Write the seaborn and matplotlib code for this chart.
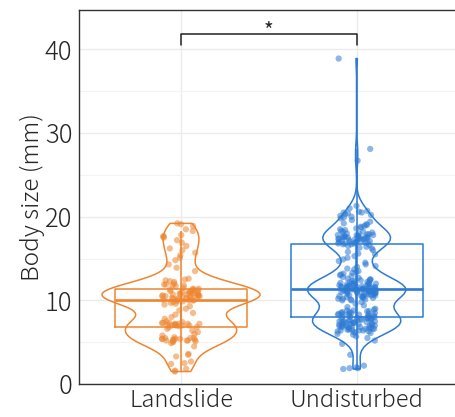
import pandas as pd
import matplotlib
matplotlib.use("Agg")
import matplotlib.pyplot as plt
import seaborn as sns

# Body size values (mm)
landslide = [
    19.2, 19.1, 18.9, 18.5, 18.3, 17.8, 17.7, 17.6, 17.5, 17.2, 16.9, 16.5, 16.2, 16.0, 15.7, 15.4,
    15.1, 14.8, 14.3, 13.9, 13.5, 12.6, 12.5, 12.4, 12.3, 12.2, 12.0, 11.9, 11.9, 11.8, 11.8, 11.7,
    11.5, 11.4, 11.4, 11.3, 11.3, 11.2, 11.2, 11.1, 11.1, 11.0, 11.0, 11.0, 10.9, 10.9, 10.8, 10.8,
    10.8, 10.7, 10.7, 10.7, 10.6, 10.6, 10.6, 10.5, 10.5, 10.5, 10.4, 10.4, 10.4, 10.3, 10.3, 10.3,
    10.2, 10.2, 10.1, 10.1, 10.0, 10.0, 10.0, 9.9, 9.9, 9.8, 9.7, 9.6, 9.5, 9.3, 9.0, 8.8, 8.5,
    8.3, 8.0, 7.8, 7.5, 7.4, 7.3, 7.3, 7.3, 7.2, 7.2, 7.2, 7.2, 7.1, 7.1, 7.1, 7.0, 7.0, 7.0, 7.0,
    6.9, 6.8, 6.8, 6.6, 6.4, 6.2, 6.0, 5.8, 5.6, 5.5, 5.5, 5.5, 5.4, 5.4, 5.4, 5.4, 5.3, 5.3, 5.3,
    5.2, 5.2, 5.2, 5.1, 5.1, 5.0, 4.9, 4.5, 3.6, 3.5, 3.3, 2.7, 2.5, 2.4, 1.8, 1.6, 1.5,
]
undisturbed = [
    38.9, 28.1, 26.7, 21.3, 21.0, 20.7, 20.6, 20.5, 20.5, 20.4, 20.3, 20.2, 20.1, 20.0, 19.9, 19.8,
    19.6, 19.4, 19.2, 19.1, 19.0, 18.9, 18.8, 18.7, 18.6, 18.5, 18.4, 18.3, 18.2, 18.2, 18.1, 18.0,
    18.0, 17.9, 17.9, 17.8, 17.8, 17.8, 17.7, 17.7, 17.7, 17.6, 17.6, 17.6, 17.5, 17.5, 17.5, 17.5,
    17.4, 17.4, 17.4, 17.3, 17.3, 17.3, 17.2, 17.2, 17.1, 17.1, 17.1, 17.0, 17.0, 17.0, 16.9, 16.9,
    16.9, 16.8, 16.8, 16.8, 16.7, 16.7,
    16.6, 16.5, 16.4, 16.3, 16.2, 16.0, 15.8, 15.6, 15.5, 15.3, 15.1, 14.9, 14.7, 14.5, 14.3, 14.1,
    14.0, 13.8, 13.7, 13.5, 13.4, 13.3, 13.2, 13.1, 13.0, 12.9, 12.8, 12.7, 12.6, 12.5, 12.5, 12.4,
    12.4, 12.3, 12.3, 12.2, 12.2, 12.1, 12.1, 12.0, 12.0, 12.0, 11.9, 11.9, 11.9, 11.8, 11.8, 11.8,
    11.7, 11.7, 11.7, 11.7, 11.6, 11.6, 11.6, 11.6, 11.5, 11.5, 11.5, 11.5, 11.4, 11.4, 11.4, 11.4,
    11.4, 11.3, 11.3, 11.3, 11.3, 11.3,
    11.2, 11.2, 11.2, 11.2, 11.1, 11.1, 11.1, 11.1, 11.0, 11.0, 11.0, 11.0, 10.9, 10.9, 10.9, 10.8,
    10.8, 10.8, 10.7, 10.7, 10.7, 10.6, 10.6, 10.6, 10.5, 10.5, 10.5, 10.4, 10.4, 10.3, 10.3, 10.2,
    10.2, 10.1, 10.1, 10.0, 10.0, 9.8, 9.6, 9.4, 9.2, 9.0, 8.9, 8.8, 8.8, 8.7, 8.7, 8.6, 8.6, 8.5,
    8.5, 8.5, 8.4, 8.4, 8.4, 8.3, 8.3, 8.3, 8.2, 8.2,
    8.1, 8.1, 8.0, 8.0, 8.0, 7.9, 7.9, 7.9, 7.8, 7.8, 7.8, 7.7, 7.7, 7.7, 7.6, 7.6, 7.6, 7.5, 7.5,
    7.5, 7.4, 7.4, 7.4, 7.3, 7.3, 7.3, 7.2, 7.2, 7.2, 7.1, 7.1, 7.1, 7.0, 7.0, 7.0, 6.9, 6.9, 6.9,
    6.8, 6.8, 6.8, 6.7, 6.7, 6.7, 6.6, 6.6, 6.6, 6.5, 6.5, 6.5, 6.4, 6.4, 6.4, 6.3, 6.3, 6.2, 6.2,
    6.1, 6.0, 5.9, 5.7, 5.5, 5.2, 4.8, 3.5, 2.2, 2.0, 1.9, 1.9, 1.8,
]
groups = ["Landslide", "Undisturbed"]
colors = ["#EE8530", "#2C7AD4"]
violin_widths = [0.9, 0.56]
violin_bw = [0.75, 0.72]

df = pd.DataFrame({
    "group": ["Landslide"] * len(landslide) + ["Undisturbed"] * len(undisturbed),
    "size": landslide + undisturbed,
})
palette = dict(zip(groups, colors))

sns.set_style("white")
plt.rcParams["font.family"] = ["Noto Sans CJK JP", "DejaVu Sans"]

fig = plt.figure(figsize=(4.55, 4.17), dpi=100)
ax = fig.add_axes([0.174, 0.079, 0.826, 0.897])

# violin outlines, one per group so each keeps its own bandwidth/width
for g, w, bw in zip(groups, violin_widths, violin_bw):
    sub = df[df["group"] == g]
    sns.violinplot(data=sub, x="group", y="size", hue="group", palette=palette, order=groups,
                   fill=False, inner=None, cut=0, bw_adjust=bw, density_norm="width",
                   width=w, linewidth=1.1, legend=False, ax=ax)
# box without whiskers
sns.boxplot(data=df, x="group", y="size", hue="group", palette=palette, order=groups,
            fill=False, width=0.75, linewidth=1.1, showcaps=False, showfliers=False,
            whiskerprops={"linewidth": 0}, medianprops={"linewidth": 1.9},
            legend=False, ax=ax)
# thin whisker line through the middle
sns.boxplot(data=df, x="group", y="size", hue="group", palette=palette, order=groups,
            fill=False, width=0.002, linewidth=1.1, showcaps=False, showfliers=False,
            legend=False, ax=ax)
# jittered points
sns.stripplot(data=df, x="group", y="size", hue="group", palette=palette, order=groups,
              jitter=0.11, size=4.5, alpha=0.55, linewidth=0, legend=False, ax=ax, zorder=5)

ax.set_xlim(-0.58, 1.56)
ax.set_ylim(0, 44.7)
ax.set_yticks([0, 10, 20, 30, 40])
ax.set_yticks([5, 15, 25, 35], minor=True)
ax.grid(True, which="major", color="#ebebeb", linewidth=1.0)
ax.grid(True, which="minor", axis="y", color="#f3f3f3", linewidth=0.8)
ax.set_axisbelow(True)

for s in ["left", "bottom", "top"]:
    ax.spines[s].set_color("#333333")
    ax.spines[s].set_linewidth(1.0)
ax.spines["right"].set_visible(False)

ax.tick_params(axis="y", which="major", labelsize=18.5, length=3, color="#333333", pad=2)
ax.tick_params(axis="y", which="minor", length=0)
ax.tick_params(axis="x", labelsize=17, length=0, pad=3)
for lab in ax.get_yticklabels() + ax.get_xticklabels():
    lab.set_fontweight("light")
ax.set_xlabel("")
ax.set_ylabel("Body size (mm)", fontsize=17.5, labelpad=0, fontweight="light")

# significance bracket
bracket_y = 41.8
ax.plot([0, 0, 1, 1], [bracket_y - 1.3, bracket_y, bracket_y, bracket_y - 1.3],
        color="#222222", linewidth=1.1, clip_on=False)
ax.text(0.5, bracket_y + 0.3, "*", ha="center", va="center", fontsize=15)

fig.savefig("out.png", dpi=100)
